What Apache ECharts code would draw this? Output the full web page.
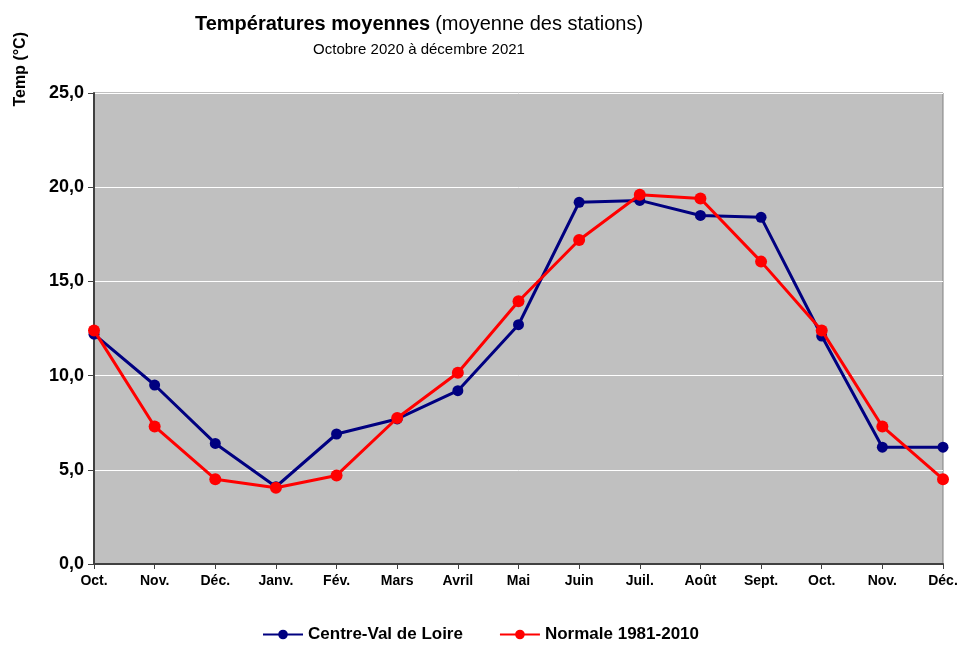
<!DOCTYPE html>
<html>
<head>
<meta charset="utf-8">
<script src="https://cdn.jsdelivr.net/npm/echarts@6/dist/echarts.min.js"></script>
<style>
  html, body { margin: 0; padding: 0; background: #fff; }
  #chart { width: 961px; height: 648px; }
</style>
</head>
<body>
<div id="chart"></div>
<script>
const months = ["Oct.", "Nov.", "Déc.", "Janv.", "Fév.", "Mars", "Avril", "Mai", "Juin", "Juil.", "Août", "Sept.", "Oct.", "Nov.", "Déc."];
const centreVal = [12.2, 9.5, 6.4, 4.1, 6.9, 7.7, 9.2, 12.7, 19.2, 19.3, 18.5, 18.4, 12.1, 6.2, 6.2];
const normale = [12.4, 7.3, 4.5, 4.05, 4.7, 7.75, 10.15, 13.95, 17.2, 19.6, 19.4, 16.05, 12.4, 7.3, 4.5];

const font = "Arial, 'Liberation Sans', sans-serif";
const chart = echarts.init(document.getElementById("chart"));

const option = {
  animation: false,
  textStyle: { fontFamily: font },
  title: [
    {
      text: "{b|Températures moyennes} {n|(moyenne des stations)}",
      left: 414,
      top: 9,
      textAlign: "center",
      textStyle: {
        fontWeight: "normal",
        rich: {
          b: { fontFamily: font, fontSize: 20, fontWeight: "bold", color: "#000" },
          n: { fontFamily: font, fontSize: 20, fontWeight: "normal", color: "#000" },
        },
      },
    },
    {
      text: "Octobre 2020 à décembre 2021",
      left: 414,
      top: 37,
      textAlign: "center",
      textStyle: { fontFamily: font, fontSize: 15, fontWeight: "normal", color: "#000" },
    },
  ],
  graphic: [
    {
      type: "text",
      left: 13,
      top: 32,
      rotation: Math.PI / 2,
      style: {
        text: "Temp (°C)",
        font: "bold 16px " + font,
        fill: "#000",
      },
    },
  ],
  grid: {
    left: 94,
    right: 18,
    top: 93,
    bottom: 84,
    show: true,
    backgroundColor: "#c0c0c0",
    borderColor: "#808080",
    borderWidth: 1,
  },
  legend: {
    bottom: 0,
    left: "center",
    itemGap: 36,
    itemWidth: 40,
    itemHeight: 12,
    textStyle: { fontFamily: font, fontSize: 17, fontWeight: "bold", color: "#000" },
    data: ["Centre-Val de Loire", "Normale 1981-2010"],
  },
  xAxis: {
    type: "category",
    boundaryGap: false,
    data: months,
    axisLine: { lineStyle: { color: "#404040", width: 2 } },
    axisTick: { alignWithLabel: true, length: 5, lineStyle: { color: "#404040" } },
    axisLabel: { fontFamily: font, fontSize: 14, fontWeight: "bold", color: "#000", margin: 10, interval: 0 },
    splitLine: { show: false },
  },
  yAxis: {
    type: "value",
    min: 0,
    max: 25,
    interval: 5,
    axisLine: { show: true, lineStyle: { color: "#404040", width: 2 } },
    axisTick: { show: true, length: 6, lineStyle: { color: "#404040" } },
    axisLabel: {
      fontFamily: font,
      fontSize: 18,
      fontWeight: "bold",
      color: "#000",
      margin: 10,
      formatter: (v) => v.toFixed(1).replace(".", ","),
    },
    splitLine: { lineStyle: { color: "#ffffff", width: 1 } },
  },
  series: [
    {
      name: "Centre-Val de Loire",
      type: "line",
      data: centreVal,
      symbol: "circle",
      symbolSize: 11,
      lineStyle: { color: "#000080", width: 3 },
      itemStyle: { color: "#000080" },
      z: 2,
    },
    {
      name: "Normale 1981-2010",
      type: "line",
      data: normale,
      symbol: "circle",
      symbolSize: 12,
      lineStyle: { color: "#ff0000", width: 3 },
      itemStyle: { color: "#ff0000" },
      z: 3,
    },
  ],
};

chart.setOption(option);
</script>
</body>
</html>
